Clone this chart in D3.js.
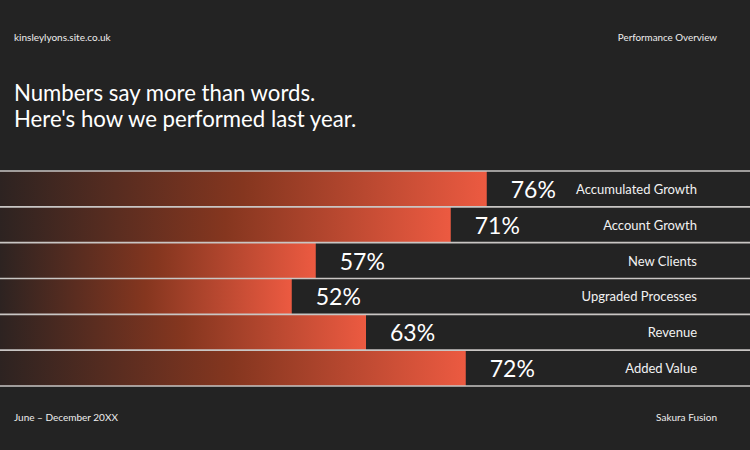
<!DOCTYPE html>
<html><head><meta charset="utf-8">
<script src="https://cdn.jsdelivr.net/npm/d3@7"></script>
<style>
html,body{margin:0;padding:0;background:#232323;}
svg{display:block;font-family:Lato,"Open Sans",sans-serif;}
</style></head>
<body><svg id="c" width="750" height="450"></svg>
<script>
// Data
const categories = ["Accumulated Growth","Account Growth","New Clients","Upgraded Processes","Revenue","Added Value"];
const values = [76,71,57,52,63,72];            // displayed percentages
const barLengths = [64.9,60.1,42.1,38.9,48.8,62.1]; // bar length as drawn, % of chart width
const headerLeft = "kinsleylyons.site.co.uk";
const headerRight = "Performance Overview";
const titleLines = ["Numbers say more than words.","Here's how we performed last year."];
const footerLeft = "June – December 20XX";
const footerRight = "Sakura Fusion";

const W = 750, H = 450;
const svg = d3.select("#c");
svg.append("rect").attr("width",W).attr("height",H).attr("fill","#232323");

const x = d3.scaleLinear().domain([0,100]).range([0,W]);
const y = d3.scaleBand().domain(categories).range([171,386]).padding(0);

const defs = svg.append("defs");
categories.forEach((c,i)=>{
  const g = defs.append("linearGradient").attr("id","g"+i)
    .attr("gradientUnits","userSpaceOnUse")
    .attr("x1",0).attr("x2",x(barLengths[i])).attr("y1",0).attr("y2",0);
  g.append("stop").attr("offset","0%").attr("stop-color","#2d2321");
  g.append("stop").attr("offset","50%").attr("stop-color","#85361f");
  g.append("stop").attr("offset","100%").attr("stop-color","#ec5a41");
});

svg.append("g").selectAll("rect.bar").data(categories).join("rect")
  .attr("class","bar")
  .attr("x",0).attr("y",d=>y(d))
  .attr("width",(d,i)=>x(barLengths[i])).attr("height",y.bandwidth())
  .attr("fill",(d,i)=>`url(#g${i})`);

// separators
const lines = categories.map(d=>y(d)).concat([y.range()[1]]);
svg.selectAll("line.sep").data(lines).join("line")
  .attr("x1",0).attr("x2",W).attr("y1",d=>d).attr("y2",d=>d)
  .attr("stroke","#c9c6c4").attr("stroke-width",1.6);

// percent labels
svg.selectAll("text.val").data(categories).join("text")
  .attr("class","val")
  .attr("x",(d,i)=>x(barLengths[i])+24)
  .attr("y",d=>y(d)+y.bandwidth()/2)
  .attr("dominant-baseline","central")
  .attr("fill","#ffffff").attr("font-size",23).attr("font-weight",400)
  .text((d,i)=>values[i]+"%");

// category labels
svg.selectAll("text.cat").data(categories).join("text")
  .attr("class","cat")
  .attr("x",697).attr("y",d=>y(d)+y.bandwidth()/2)
  .attr("dominant-baseline","central").attr("text-anchor","end")
  .attr("fill","#f2f2f2").attr("font-size",13).attr("font-weight",400)
  .text(d=>d);

// header / footer
svg.append("text").attr("x",14).attr("y",41).attr("fill","#eeeeee").attr("font-size",10).text(headerLeft);
svg.append("text").attr("x",717).attr("y",41).attr("text-anchor","end").attr("fill","#eeeeee").attr("font-size",9.8).text(headerRight);
svg.append("text").attr("x",14).attr("y",421).attr("fill","#eeeeee").attr("font-size",10).text(footerLeft);
svg.append("text").attr("x",717).attr("y",421).attr("text-anchor","end").attr("fill","#eeeeee").attr("font-size",10).text(footerRight);

svg.selectAll("text.title").data(titleLines).join("text")
  .attr("class","title")
  .attr("x",14).attr("y",(d,i)=>101+i*26)
  .attr("fill","#ffffff").attr("font-size",22.2).attr("font-weight",400)
  .text(d=>d);
</script></body></html>
